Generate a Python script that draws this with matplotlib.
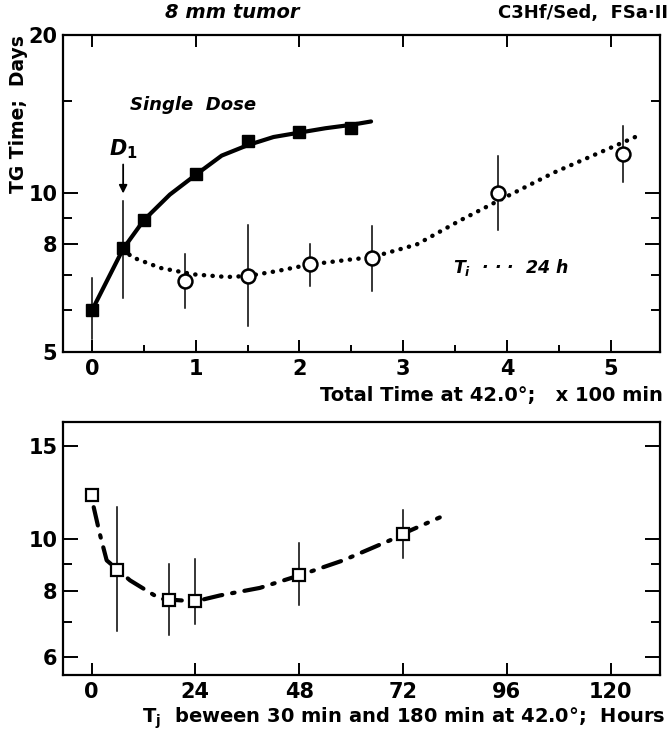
import matplotlib
matplotlib.use("Agg")
import matplotlib.pyplot as plt
import matplotlib.ticker as mt

plt.rcParams['font.family'] = ['DejaVu Sans']
plt.rcParams['font.weight'] = 'bold'
plt.rcParams['mathtext.fontset'] = 'custom'
plt.rcParams['mathtext.rm'] = 'DejaVu Sans:bold'
plt.rcParams['mathtext.it'] = 'DejaVu Sans:italic:bold'
plt.rcParams['mathtext.bf'] = 'DejaVu Sans:bold'

# --- top panel: TG time vs total heating time (x 100 min) ---
single_x = [0, 0.3, 0.5, 1.0, 1.5, 2.0, 2.5]
single_y = [6.0, 7.87, 8.9, 10.9, 12.57, 13.08, 13.29]
single_err_x = [0, 0.3]
single_err_lo = [5.3, 6.33]
single_err_hi = [6.9, 9.67]
single_fit_x = [0, 0.3, 0.5, 0.75, 1.0, 1.25, 1.5, 1.75, 2.0, 2.25, 2.5, 2.69]
single_fit_y = [6.0, 7.85, 8.9, 9.95, 10.85, 11.8, 12.35, 12.8, 13.05, 13.3, 13.5, 13.7]

split_x = [0.9, 1.5, 2.1, 2.7, 3.91, 5.12]
split_y = [6.83, 6.98, 7.33, 7.55, 10.0, 11.86]
split_err_lo = [6.06, 5.60, 6.67, 6.52, 8.54, 10.51]
split_err_hi = [7.68, 8.73, 8.02, 8.69, 11.78, 13.43]
split_fit_x = [0.3, 0.385, 0.66, 0.98, 1.3, 1.5, 1.78, 2.1, 2.49, 2.7, 3.13, 3.55, 3.91, 4.45, 5.11, 5.26]
split_fit_y = [7.85, 7.57, 7.22, 7.02, 6.94, 6.97, 7.12, 7.33, 7.49, 7.57, 8.0, 8.89, 9.67, 10.95, 12.48, 12.86]

# --- bottom panel: TG time vs interval Tj (hours) ---
tj_x = [0, 6, 18, 24, 48, 72]
tj_y = [12.14, 8.77, 7.70, 7.64, 8.55, 10.25]
tj_err_x = [6, 18, 24, 48, 72]
tj_err_lo = [6.73, 6.61, 6.93, 7.53, 9.24]
tj_err_hi = [11.5, 8.97, 9.2, 9.86, 11.37]
tj_fit_x = [0.5, 1.9, 3.5, 6, 8.9, 15.8, 18, 24, 29.7, 38.9, 48, 58.2, 69, 72, 80.5]
tj_fit_y = [11.5, 10.25, 9.13, 8.77, 8.37, 7.73, 7.70, 7.64, 7.84, 8.1, 8.55, 9.13, 9.96, 10.25, 11.0]

fig = plt.figure(figsize=(6.7, 7.31), dpi=100)
ax1 = fig.add_axes([0.094, 0.5185, 0.891, 0.4337])
ax2 = fig.add_axes([0.094, 0.0766, 0.891, 0.346])

for ax in (ax1, ax2):
    ax.set_yscale('log')
    for s in ax.spines.values():
        s.set_linewidth(1.6)
    ax.tick_params(which='both', direction='in', width=1.4, labelsize=15,
                   left=True, right=True)
    ax.tick_params(which='major', length=8.5)
    ax.tick_params(which='minor', length=5)
    ax.yaxis.set_minor_formatter(mt.NullFormatter())

# top panel
ax1.plot(single_fit_x, single_fit_y, color='black', lw=3.0, solid_capstyle='round')
ax1.plot(split_fit_x, split_fit_y, color='black', lw=3.2, linestyle=(0, (0.05, 1.9)),
         dash_capstyle='round')
for x, lo, hi in zip(single_err_x, single_err_lo, single_err_hi):
    ax1.plot([x, x], [lo, hi], color='black', lw=1.1)
for x, lo, hi in zip(split_x, split_err_lo, split_err_hi):
    ax1.plot([x, x], [lo, hi], color='black', lw=1.1)
ax1.plot(single_x, single_y, 's', color='black', ms=8)
ax1.plot(split_x, split_y, 'o', mfc='white', mec='black', mew=1.8, ms=10)

ax1.set_xlim(-0.28, 5.475)
ax1.set_ylim(5, 20)
ax1.xaxis.set_major_locator(mt.FixedLocator([0, 1, 2, 3, 4, 5]))
ax1.xaxis.set_minor_locator(mt.FixedLocator([0.5, 1.5, 2.5, 3.5, 4.5]))
ax1.yaxis.set_major_locator(mt.FixedLocator([5, 8, 10, 20]))
ax1.yaxis.set_minor_locator(mt.FixedLocator([6, 7, 9, 15]))
ax1.yaxis.set_major_formatter(mt.FixedFormatter(['5', '8', '10', '20']))
ax1.tick_params(which='major', top=True, pad=5)
ax1.tick_params(which='minor', top=False)
ax1.tick_params(axis='y', which='major', length=11, pad=4)
ax1.tick_params(axis='y', which='minor', length=6.5)

ax1.text(0.97, 14.75, 'Single  Dose', ha='center', va='center', fontsize=13,
         style='italic', fontweight='bold')
ax1.text(3.48, 7.22, r'$T_i$  · · ·  24 h', ha='left', va='center', fontsize=12.5,
         style='italic', fontweight='bold')
ax1.text(0.3, 12.12, r'$D_1$', ha='center', va='center', fontsize=15)
ax1.annotate('', xy=(0.3, 10.0), xytext=(0.3, 11.35),
             arrowprops=dict(arrowstyle='-|>', color='black', lw=1.3,
                             mutation_scale=12, shrinkA=0, shrinkB=0))

# bottom panel
ax2.plot(tj_fit_x, tj_fit_y, color='black', lw=3.0, linestyle=(0, (4.5, 2.4, 0.6, 2.4)),
         dash_capstyle='round')
for x, lo, hi in zip(tj_err_x, tj_err_lo, tj_err_hi):
    ax2.plot([x, x], [lo, hi], color='black', lw=1.1)
ax2.plot(tj_x, tj_y, 's', mfc='white', mec='black', mew=1.6, ms=8)

ax2.set_xlim(-6.6, 131.4)
ax2.set_ylim(5.55, 16.64)
ax2.xaxis.set_major_locator(mt.FixedLocator([0, 24, 48, 72, 96, 120]))
ax2.yaxis.set_major_locator(mt.FixedLocator([6, 8, 10, 15]))
ax2.yaxis.set_minor_locator(mt.FixedLocator([7, 9]))
ax2.yaxis.set_major_formatter(mt.FixedFormatter(['6', '8', '10', '15']))
ax2.tick_params(which='both', top=False)
ax2.tick_params(axis='x', pad=5)
ax2.tick_params(axis='y', which='major', length=11, pad=4)
ax2.tick_params(axis='y', which='minor', length=6.5)

# figure texts
fig.text(232 / 670, 1 - 13 / 731, '8 mm tumor', ha='center', va='center',
         fontsize=14, style='italic', fontweight='bold')
fig.text(668 / 670, 1 - 13 / 731, 'C3Hf/Sed,  FSa·II', ha='right', va='center',
         fontsize=13, fontweight='bold')
fig.text(19 / 670, 1 - 114 / 731, 'TG Time;  Days', ha='center', va='center',
         rotation=90, fontsize=13.5, fontweight='bold')
fig.text(663 / 670, 1 - 395 / 731, 'Total Time at 42.0°;   x 100 min', ha='right',
         va='center', fontsize=14, fontweight='bold')
fig.text(666 / 670, 1 - 718 / 731,
         r'$\mathrm{T_j}$  beween 30 min and 180 min at 42.0°;  Hours',
         ha='right', va='center', fontsize=14, fontweight='bold')

fig.savefig('out.png', dpi=100)
